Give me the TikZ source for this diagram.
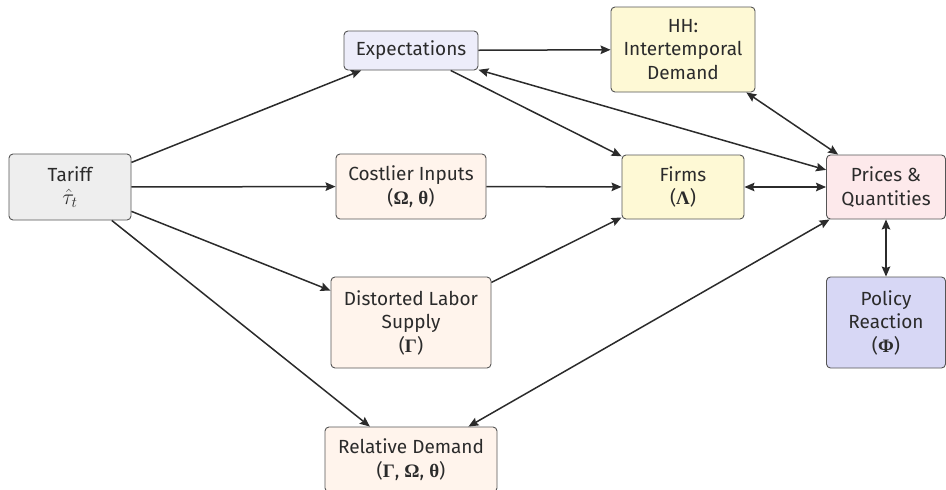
\RequirePackage{fix-cm}
\documentclass[tikz,border=0pt]{standalone}
\usepackage{fontspec}
\setmainfont{Fira Sans}
\newfontfamily\grk{Liberation Serif}
\usetikzlibrary{arrows.meta}
\definecolor{edgegray}{HTML}{555555}
\definecolor{inkgray}{HTML}{2B2B2B}
\definecolor{tariffgray}{HTML}{EEEEEE}
\definecolor{expfill}{HTML}{EDEDFA}
\definecolor{yellowfill}{HTML}{FEF9D5}
\definecolor{peachfill}{HTML}{FFF4EC}
\definecolor{pinkfill}{HTML}{FDE9EB}
\definecolor{policyfill}{HTML}{D7D7F5}
\newcommand{\gk}[1]{{\grk\bfseries #1}}
\begin{document}
\begin{tikzpicture}[x=1pt,y=-1pt,
  box/.style={draw=edgegray, line width=0.9pt, rounded corners=4pt, align=center,
    font=\fontsize{19}{23.5}\selectfont, text=inkgray, inner sep=0pt},
  tip/.tip={Stealth[length=10pt,width=8.5pt,inset=1.5pt]},
  link/.style={draw=inkgray, line width=1.5pt, -tip},
  both/.style={draw=inkgray, line width=1.5pt, tip-tip}]
\useasboundingbox (0,0) rectangle (946,490);

% nodes
\node[box, fill=tariffgray, minimum width=122pt, minimum height=66pt] (tariff) at (70,187) {Tariff\\[-1pt]{\fontsize{22}{24}\selectfont$\hat{\tau}_t$}};
\node[box, fill=expfill, minimum width=134pt, minimum height=39pt] (exp) at (411,50.5) {Expectations};
\node[box, fill=yellowfill, minimum width=144pt, minimum height=85pt] (hh) at (683,49.5) {HH:\\Intertemporal\\Demand};
\node[box, fill=peachfill, minimum width=150pt, minimum height=65pt] (cost) at (411,186.5) {Costlier Inputs\\(\gk{Ω}, \gk{θ})};
\node[box, fill=yellowfill, minimum width=122pt, minimum height=64pt] (firms) at (683,187) {Firms\\(\gk{Λ})};
\node[box, fill=pinkfill, minimum width=119pt, minimum height=64pt] (prices) at (886,187) {Prices \&\\Quantities};
\node[box, fill=peachfill, minimum width=160pt, minimum height=91pt] (labor) at (411,322.5) {Distorted Labor\\Supply\\(\gk{Γ})};
\node[box, fill=policyfill, minimum width=119pt, minimum height=91pt] (policy) at (886,322.5) {Policy\\Reaction\\(\gk{Φ})};
\node[box, fill=peachfill, minimum width=172pt, minimum height=65pt] (reldem) at (411,459.5) {Relative Demand\\(\gk{Γ}, \gk{Ω}, \gk{θ})};

% connectors
\draw[link] (tariff) -- (exp);
\draw[link] (tariff) -- (cost);
\draw[link] (tariff) -- (labor);
\draw[link] (tariff) -- (reldem);
\draw[link] (exp) -- (hh);
\draw[link] (exp) -- (firms);
\draw[both] (exp) -- (prices);
\draw[both] (hh) -- (prices);
\draw[link] (cost) -- (firms);
\draw[link] (labor) -- (firms);
\draw[both] (firms) -- (prices);
\draw[both] (prices) -- (policy);
\draw[both] (reldem) -- (prices);
\end{tikzpicture}
\end{document}
